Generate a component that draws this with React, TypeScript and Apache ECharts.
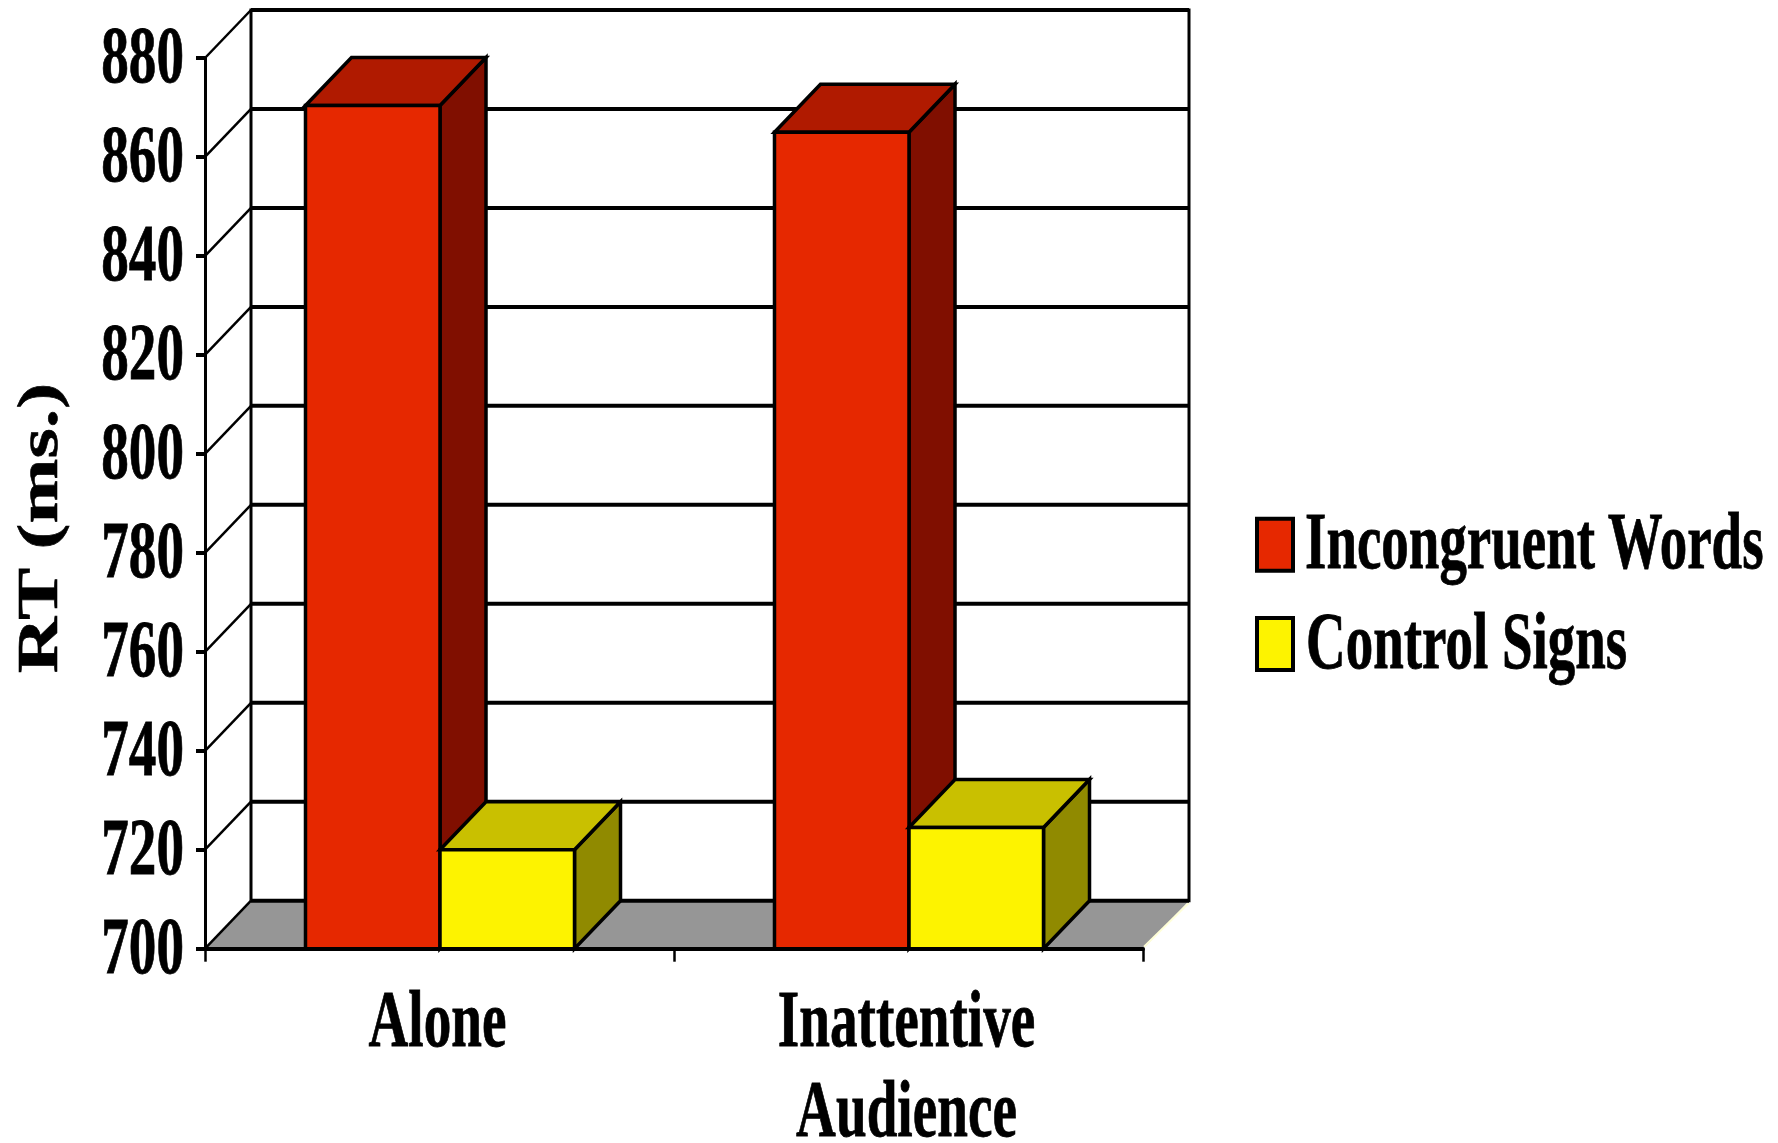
import React, { useEffect, useRef } from "react";
import * as echarts from "echarts";

const categories = ["Alone", "Inattentive\nAudience"];
const seriesNames = ["Incongruent Words", "Control Signs"];
const incongruentWords = [870.4, 865];
const controlSigns = [720, 724.5];
const yTicks = [700, 720, 740, 760, 780, 800, 820, 840, 860, 880];
const yAxisTitle = "RT (ms.)";

const FONT = '"Liberation Serif", "Times New Roman", serif';
const DX = 46;
const DY = 48;
const BAR_FRACTION = 0.2868;
const SCALE_X = 0.69;
const LINE = "#000";

const palettes = [
  { front: "#E62800", top: "#B01A00", side: "#800F00" },
  { front: "#FDF300", top: "#C9C000", side: "#908A00" },
];

const wallRender = (params: any, api: any) => {
  const v = api.value(1);
  const cs = params.coordSys;
  const x0 = cs.x;
  const x1 = cs.x + cs.width;
  const y = api.coord([0, v])[1];
  const children: any[] = [];
  if (v === yTicks[0]) {
    children.push({
      type: "polygon",
      shape: { points: [[x0, y], [x0 + DX, y - DY], [x1 + DX, y - DY], [x1, y]] },
      style: { fill: "#969696", stroke: "none" },
    });
    children.push({
      type: "line",
      shape: { x1: x1 + 1, y1: y - 2, x2: x1 + DX, y2: y - DY + 2 },
      style: { stroke: "#FFFFD8", lineWidth: 2 },
    });
  }
  children.push({
    type: "polyline",
    shape: { points: [[x0, y], [x0 + DX, y - DY]] },
    style: { fill: "none", stroke: LINE, lineWidth: 2.5 },
  });
  children.push({
    type: "line",
    shape: { x1: x0 + DX, y1: y - DY, x2: x1 + DX, y2: y - DY },
    style: { stroke: LINE, lineWidth: 4 },
  });
  if (v === yTicks[yTicks.length - 1]) {
    const floor = api.coord([0, yTicks[0]])[1] - DY;
    children.push({
      type: "line",
      shape: { x1: x0 + DX, y1: y - DY - 1.5, x2: x0 + DX, y2: floor },
      style: { stroke: LINE, lineWidth: 3 },
    });
    children.push({
      type: "line",
      shape: { x1: x1 + DX, y1: y - DY - 1.5, x2: x1 + DX, y2: floor + 1.5 },
      style: { stroke: LINE, lineWidth: 3 },
    });
  }
  return { type: "group", children };
};

const makeBarRender = (seriesIndex: number) => (_: any, api: any) => {
  const c = api.value(0);
  const band = api.size([1, 0])[0];
  const w = band * BAR_FRACTION;
  const cx = api.coord([c, 0])[0] + 0.5;
  const l = cx - w + seriesIndex * w;
  const r = l + w;
  const top = api.coord([c, api.value(1)])[1];
  const bottom = api.coord([c, yTicks[0]])[1];
  const p = palettes[seriesIndex];
  const stroke = { stroke: LINE, lineWidth: 3.5, lineJoin: "miter" };
  return {
    type: "group",
    children: [
      {
        type: "polygon",
        shape: { points: [[r, top], [r + DX, top - DY], [r + DX, bottom - DY], [r, bottom]] },
        style: { fill: p.side, ...stroke },
      },
      {
        type: "polygon",
        shape: { points: [[l, top], [l + DX, top - DY], [r + DX, top - DY], [r, top]] },
        style: { fill: p.top, ...stroke },
      },
      {
        type: "polygon",
        shape: { points: [[l, top], [r, top], [r, bottom], [l, bottom]] },
        style: { fill: p.front, ...stroke },
      },
    ],
  };
};

const textStyle = (text: string, extra: any) => ({
  text,
  fontFamily: FONT,
  fontWeight: "bold",
  fontSize: 80,
  fill: "#000",
  stroke: "#000",
  lineWidth: 0.8,
  ...extra,
});

const yLabelRender = (_: any, api: any) => {
  const v = api.value(1);
  const y = api.coord([0, v])[1];
  return {
    type: "text",
    x: 184,
    y: y - 2.5,
    scaleX: SCALE_X,
    style: textStyle(String(v), { align: "right", verticalAlign: "middle" }),
  };
};

const xLabelRender = (params: any, api: any) => {
  const idx = api.value(0);
  const p = api.coord([idx, yTicks[0]]);
  return {
    type: "text",
    x: p[0] - 2,
    y: p[1] + 26,
    scaleX: SCALE_X,
    style: textStyle(categories[params.dataIndex], {
      align: "center",
      verticalAlign: "top",
      lineHeight: 90,
    }),
  };
};

const legendRows = [
  { swatchY: 518.7, textY: 541.3, textX: 1305 },
  { swatchY: 618, textY: 641.3, textX: 1306 },
];

const graphicElements: any[] = [
  {
    type: "text",
    x: 38,
    y: 528,
    rotation: Math.PI / 2,
    scaleY: 0.74,
    style: textStyle(yAxisTitle, { fontSize: 78, align: "center", verticalAlign: "middle" }),
  },
  ...seriesNames.flatMap((name, i) => [
    {
      type: "rect",
      shape: { x: 1257, y: legendRows[i].swatchY, width: 36, height: 52 },
      style: { fill: palettes[i].front, stroke: LINE, lineWidth: 4 },
    },
    {
      type: "text",
      x: legendRows[i].textX,
      y: legendRows[i].textY,
      scaleX: 0.687,
      style: textStyle(name, { align: "left", verticalAlign: "middle" }),
    },
  ]),
];

export default function App() {
  const ref = useRef<HTMLDivElement>(null);
  useEffect(() => {
    document.body.style.margin = "0";
    const chart = echarts.init(ref.current!, null, { renderer: "svg" });
    chart.setOption({
      animation: false,
      backgroundColor: "#fff",
      grid: { left: 205, top: 58, width: 938, height: 890.7, containLabel: false },
      xAxis: {
        type: "category",
        data: categories,
        z: 20,
        axisLine: { show: true, lineStyle: { color: LINE, width: 4 } },
        axisTick: { show: true, length: 13, lineStyle: { color: LINE, width: 2.5 } },
        axisLabel: { show: false },
        splitLine: { show: false },
      },
      yAxis: {
        type: "value",
        min: 700,
        max: 880,
        interval: 20,
        z: 20,
        axisLine: { show: true, lineStyle: { color: LINE, width: 3 } },
        axisTick: { show: true, length: 9, lineStyle: { color: LINE, width: 4 } },
        axisLabel: { show: false },
        splitLine: { show: false },
      },
      series: [
        {
          type: "custom",
          name: "wall",
          silent: true,
          z: 1,
          clip: false,
          renderItem: wallRender,
          encode: { x: 0, y: 1 },
          data: yTicks.map((t) => [0, t]),
        },
        {
          type: "custom",
          name: seriesNames[0],
          silent: true,
          z: 2,
          clip: false,
          renderItem: makeBarRender(0),
          encode: { x: 0, y: 1 },
          data: incongruentWords.map((v, i) => [i, v]),
        },
        {
          type: "custom",
          name: seriesNames[1],
          silent: true,
          z: 3,
          clip: false,
          renderItem: makeBarRender(1),
          encode: { x: 0, y: 1 },
          data: controlSigns.map((v, i) => [i, v]),
        },
        {
          type: "custom",
          name: "yLabels",
          silent: true,
          z: 4,
          clip: false,
          renderItem: yLabelRender,
          encode: { x: 0, y: 1 },
          data: yTicks.map((t) => [0, t]),
        },
        {
          type: "custom",
          name: "xLabels",
          silent: true,
          z: 4,
          clip: false,
          renderItem: xLabelRender,
          encode: { x: 0, y: 1 },
          data: categories.map((_, i) => [i, yTicks[0]]),
        },
      ],
      graphic: { elements: graphicElements },
    });
    return () => chart.dispose();
  }, []);
  return (
    <div
      ref={ref}
      style={{ position: "absolute", left: 0, top: 0, width: 1778, height: 1143 }}
    />
  );
}
